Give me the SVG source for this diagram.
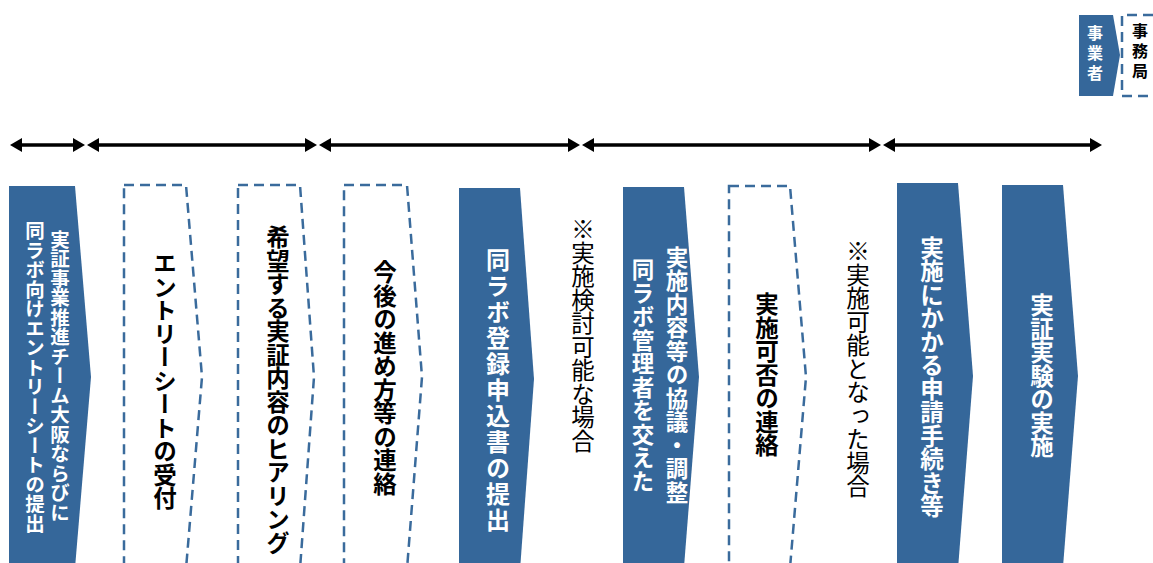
<svg xmlns="http://www.w3.org/2000/svg" width="1153" height="563" viewBox="0 0 1153 563">
<style>
.blue{fill:#35679a}
.dash{fill:#fff;stroke:#3a6b9c;stroke-width:2.5;stroke-dasharray:10 6}
.t{font-family:"Noto Sans CJK JP","Noto Sans CJK SC",sans-serif;writing-mode:vertical-rl;text-anchor:middle}
.w{fill:#fff;font-weight:bold}
.k{fill:#000;font-weight:bold}
.n{fill:#000;font-weight:normal}
.arr{stroke:#000;stroke-width:3.5;fill:none}
</style>
<defs>
<marker id="ah" viewBox="0 0 12 14" refX="0" refY="7" markerWidth="12" markerHeight="14" markerUnits="userSpaceOnUse" orient="auto-start-reverse">
<path d="M0,0 L12,7 L0,14 Z" fill="#000"/>
</marker>
</defs>
<g id="legend-jigyosha">
<path class="blue" d="M1079,15 H1113 L1120,55 L1113,96 H1079 Z"/>
<text class="t w" x="1095" y="55" font-size="16" letter-spacing="4">事業者</text>
</g>
<g id="legend-jimukyoku">
<path class="dash" d="M1153,15 H1122 V96 H1153" fill="none"/>
<text class="t k" x="1140" y="53" font-size="16" letter-spacing="4">事務局</text>
</g>
<g id="connectors">
<line class="arr" x1="22" y1="145" x2="73" y2="145" marker-start="url(#ah)" marker-end="url(#ah)"/>
<line class="arr" x1="99" y1="145" x2="305" y2="145" marker-start="url(#ah)" marker-end="url(#ah)"/>
<line class="arr" x1="331" y1="145" x2="568" y2="145" marker-start="url(#ah)" marker-end="url(#ah)"/>
<line class="arr" x1="594" y1="145" x2="869" y2="145" marker-start="url(#ah)" marker-end="url(#ah)"/>
<line class="arr" x1="895" y1="145" x2="1090" y2="145" marker-start="url(#ah)" marker-end="url(#ah)"/>
</g>
<g id="n1">
<path class="blue" d="M9,186 H75 L91,377 L75,568 H9 Z"/>
<text class="t w" x="60" y="376" font-size="19.5">実証事業推進チーム大阪ならびに</text>
<text class="t w" x="35" y="377" font-size="19.5">同ラボ向けエントリーシートの提出</text>
</g>
<g id="n2">
<path class="dash" d="M124,185 H186 L202,377 L186,569 H124 Z"/>
<text class="t k" x="165" y="381" font-size="23.5">エントリーシートの受付</text>
</g>
<g id="n3">
<path class="dash" d="M238,185 H300 L314,377 L300,569 H238 Z"/>
<text class="t k" x="278" y="390" font-size="23.5">希望する実証内容のヒアリング</text>
</g>
<g id="n4">
<path class="dash" d="M344,185 H407 L422,377 L407,569 H344 Z"/>
<text class="t k" x="385" y="378" font-size="23.5">今後の進め方等の連絡</text>
</g>
<g id="n5">
<path class="blue" d="M459,188 H520 L534,379 L520,570 H459 Z"/>
<text class="t w" x="498" y="391" font-size="24" letter-spacing="2">同ラボ登録申込書の提出</text>
</g>
<g id="note1">
<text class="t n" x="583" y="335" font-size="23.5">※実施検討可能な場合</text>
</g>
<g id="n6">
<path class="blue" d="M623,187 H684 L699,377 L684,567 H623 Z"/>
<text class="t w" x="677" y="375" font-size="22.5" letter-spacing="1">実施内容等の協議・調整</text>
<text class="t w" x="643" y="376" font-size="22.5" letter-spacing="1">同ラボ管理者を交えた</text>
</g>
<g id="n7">
<path class="dash" d="M729,186 H790 L806,377 L790,568 H729 Z"/>
<text class="t k" x="767" y="375" font-size="23.5">実施可否の連絡</text>
</g>
<g id="note2">
<text class="t n" x="858" y="369" font-size="23.5">※実施可能となった場合</text>
</g>
<g id="n8">
<path class="blue" d="M897,183 H958 L973,376 L958,569 H897 Z"/>
<text class="t w" x="932" y="377" font-size="23.5">実施にかかる申請手続き等</text>
</g>
<g id="n9">
<path class="blue" d="M1002,185 H1063 L1078,376 L1063,567 H1002 Z"/>
<text class="t w" x="1042" y="376" font-size="23.5">実証実験の実施</text>
</g>
</svg>
